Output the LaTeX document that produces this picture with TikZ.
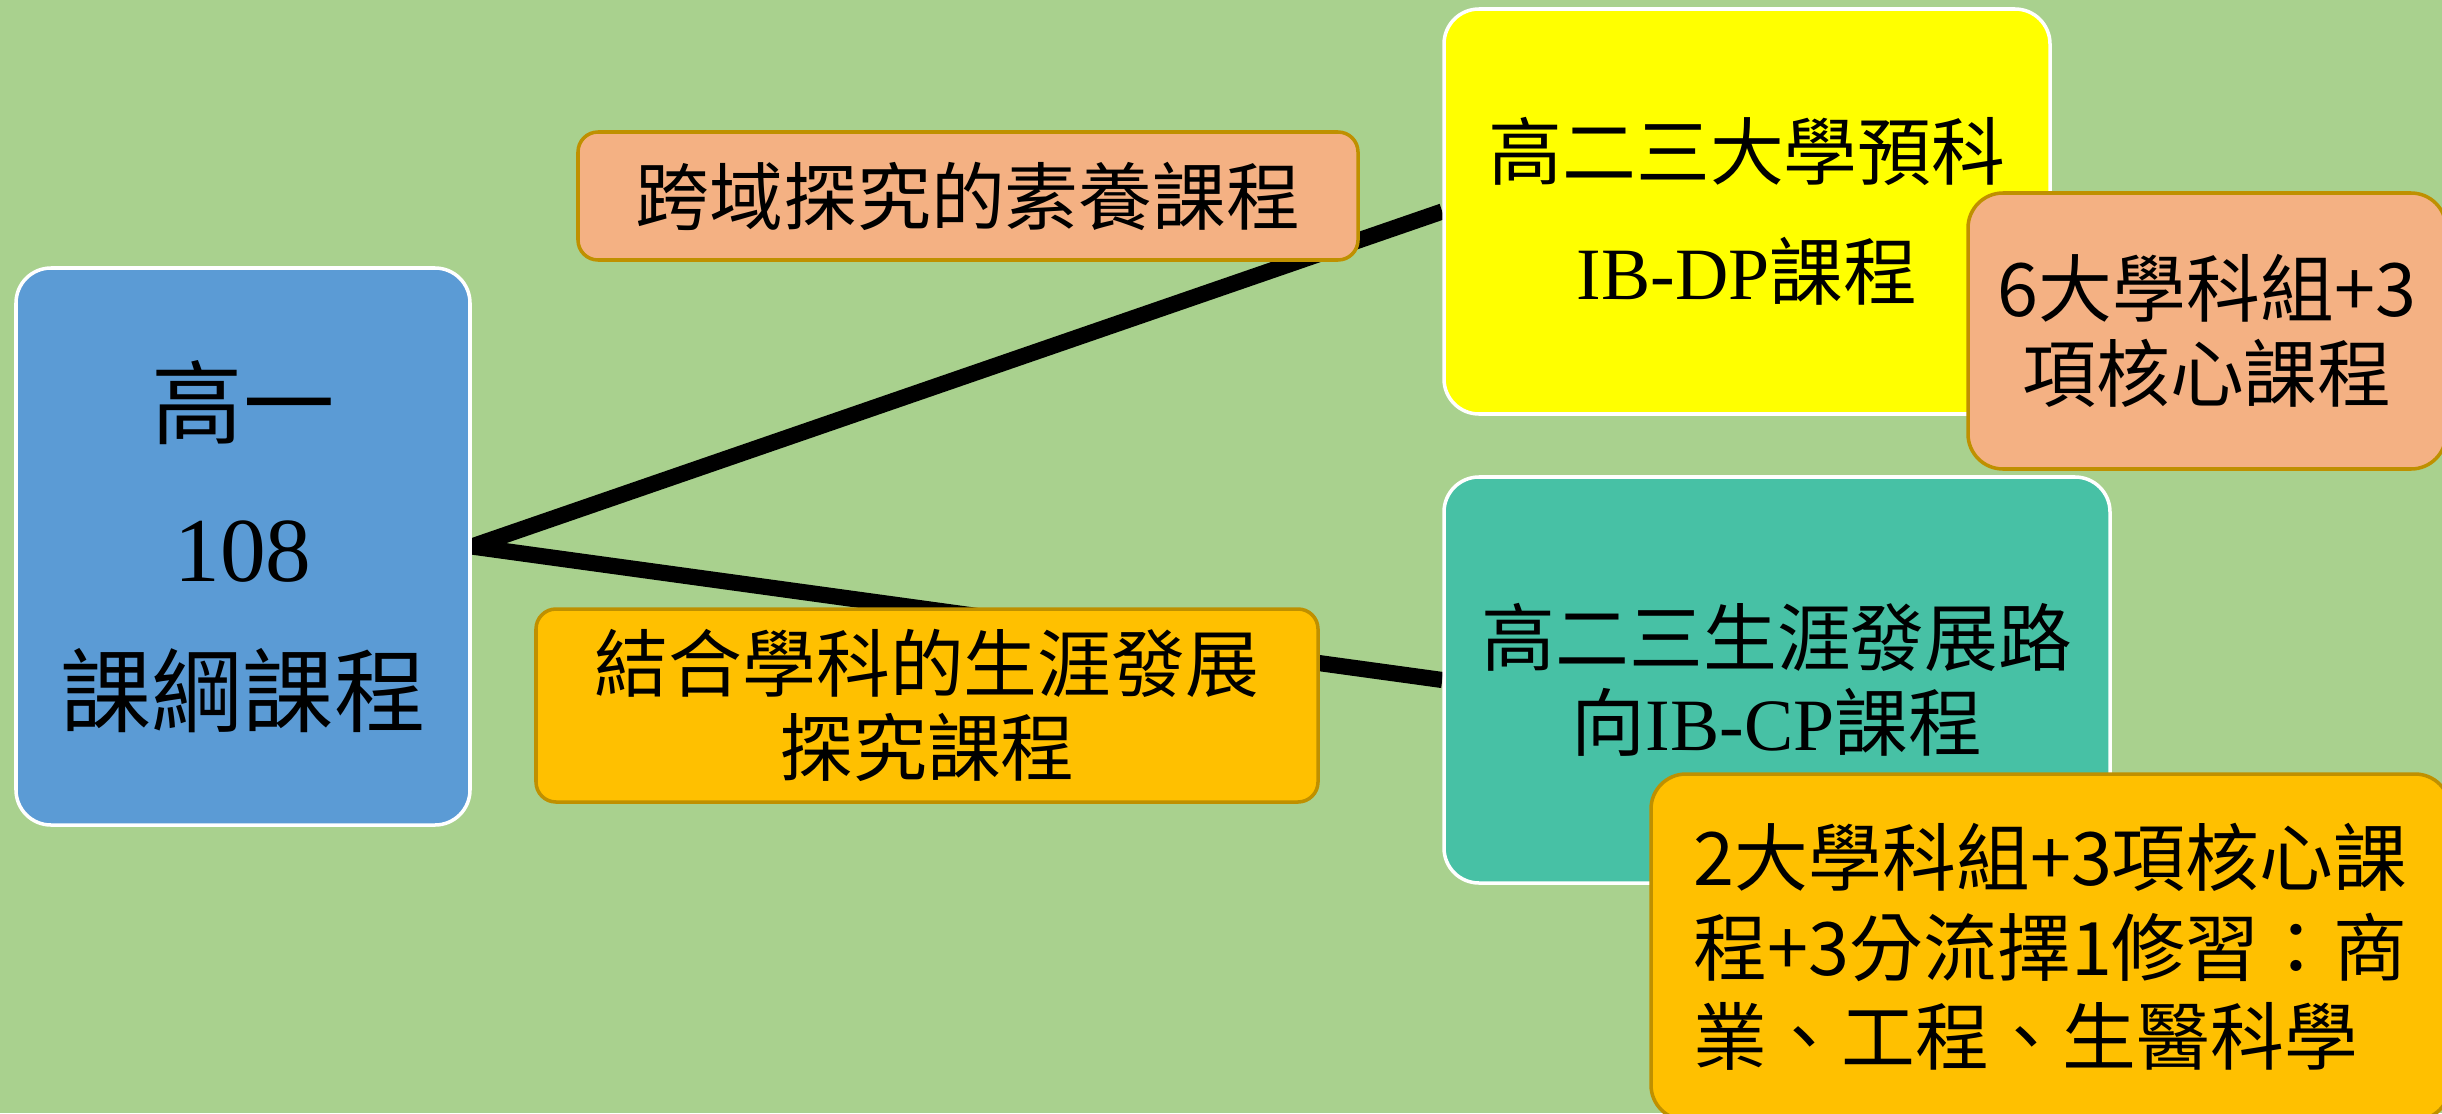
\documentclass[tikz,border=0pt]{standalone}
\usepackage{fontspec}
\setmainfont{Noto Sans CJK TC}
\newfontfamily\latinfont{Liberation Serif}
\usepackage{tikz}
\newcommand{\serif}[1]{{\latinfont #1}}
\definecolor{grass}{RGB}{169,209,142}
\definecolor{sky}{RGB}{91,155,213}
\definecolor{peach}{RGB}{244,177,131}
\definecolor{amber}{RGB}{255,192,0}
\definecolor{lemon}{RGB}{255,255,0}
\definecolor{teal}{RGB}{71,193,165}
\definecolor{gold}{RGB}{191,144,0}
\usetikzlibrary{positioning}
\pgfdeclarelayer{bg}
\pgfsetlayers{bg,main}

\begin{document}
\begin{tikzpicture}[
    box/.style={draw=white, line width=1pt, rounded corners=0.35cm, align=center},
    tag/.style={draw=gold, line width=1pt, rounded corners=0.2cm, align=center},
    link/.style={line width=4.6pt}]
            \useasboundingbox (0,0) rectangle (24.42,11.13);
            \clip (0,0) rectangle (24.42,11.13);
            \node [box, fill=sky, minimum width=4.54cm, minimum height=5.57cm, font=\fontsize{26}{41}\selectfont] (root) at (2.43,5.665) {高一\\\serif{108}\\課綱課程};
            \node [tag, fill=peach, minimum width=7.8cm, minimum height=1.28cm, font=\fontsize{21}{24}\selectfont] (inquiry) at (9.68,9.17) {跨域探究的素養課程};
            \node [tag, fill=amber, minimum width=7.82cm, minimum height=1.93cm, font=\fontsize{21}{24}\selectfont] (career) at (9.27,4.075) {結合學科的生涯發展\\探究課程};
            % upper branch
            \node [box, fill=lemon, minimum width=6.06cm, minimum height=4.05cm, font=\fontsize{21}{34}\selectfont] (dp) at (17.47,9.015) {高二三大學預科\\\serif{IB-DP}課程};
            \node [tag, fill=peach, minimum width=4.78cm, minimum height=2.76cm, rounded corners=0.35cm, font=\fontsize{21}{24}\selectfont] (dpcore) at (22.07,7.82) {6大學科組+3\\項核心課程};
            % lower branch
            \node [box, fill=teal, minimum width=6.66cm, minimum height=4.06cm, font=\fontsize{21}{24}\selectfont] (cp) at (17.77,4.33) {高二三生涯發展路\\向\serif{IB-CP}課程};
            \node [tag, fill=amber, minimum width=7.99cm, minimum height=3.46cm, rounded corners=0.35cm, align=left, font=\fontsize{21}{25.5}\selectfont] (cpcore) at (20.505,1.66) {2大學科組+3項核心課\\程+3分流擇1修習：商\\業、工程、生醫科學};

            \begin{pgfonlayer}{bg}
                \fill [grass] (0,0) rectangle (24.42,11.13);
                \draw [link] (root.east) -- (dp.west);
                \draw [link] (root.east) -- (cp.west);
            \end{pgfonlayer}
        \end{tikzpicture}
\end{document}
